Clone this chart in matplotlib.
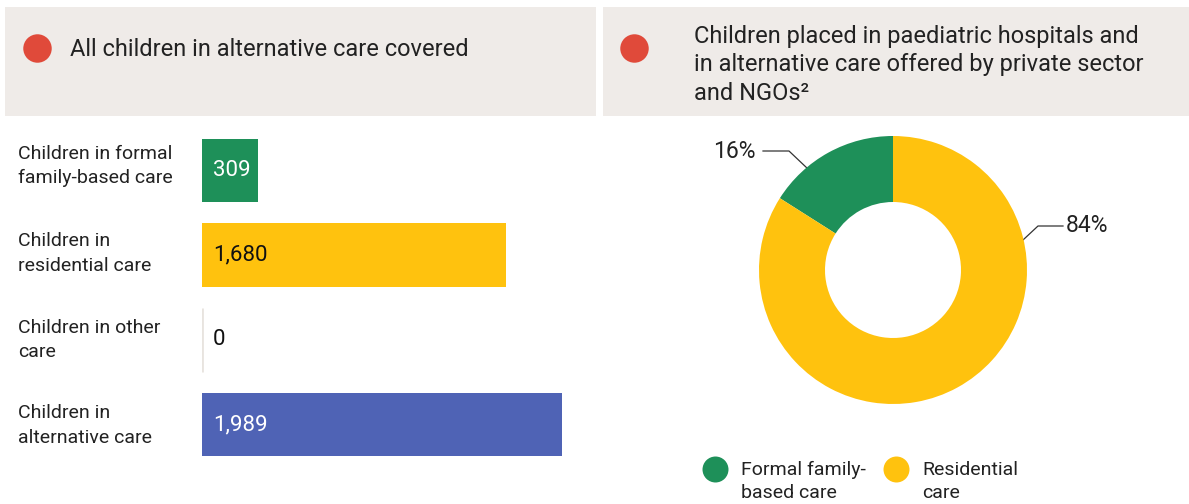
import matplotlib
matplotlib.use("Agg")
import matplotlib.pyplot as plt
from matplotlib.patches import Rectangle
from matplotlib.transforms import blended_transform_factory

plt.rcParams['font.family'] = ['Roboto', 'DejaVu Sans']

# data
bar_labels = ["Children in formal\nfamily-based care", "Children in\nresidential care",
              "Children in other\ncare", "Children in\nalternative care"]
bar_values = [309, 1680, 0, 1989]
bar_colors = ["#1e9059", "#ffc20e", "#e8e4df", "#4f63b5"]
value_text_colors = ["white", "#111111", "#111111", "white"]

pie_labels = ["Formal family-\nbased care", "Residential\ncare"]
pie_shares = [16, 84]
pie_colors = ["#1e9059", "#ffc20e"]

W, H = 1189, 504
fig = plt.figure(figsize=(W / 100, H / 100), dpi=100)

# background layer in pixel coordinates
bg = fig.add_axes([0, 0, 1, 1])
bg.set_xlim(0, W)
bg.set_ylim(H, 0)
bg.axis('off')
bg.add_patch(Rectangle((5, 7), 591, 109, color="#efebe8", lw=0))
bg.add_patch(Rectangle((603, 7), 586, 109, color="#efebe8", lw=0))
bg.scatter([37, 634], [48, 48], s=420, color="#e04a3a", lw=0)
bg.text(70, 49, "All children in alternative care covered", fontsize=17,
        va='center', ha='left', color="#222222")
bg.text(694, 65, "Children placed in paediatric hospitals and\n"
        "in alternative care offered by private sector\nand NGOs²",
        fontsize=17, va='center', ha='left', color="#222222", linespacing=1.3)

# bar chart
def fx(px):
    return px / W

def fy(py):
    return 1 - py / H

scale = 0.181  # px per child
ax = fig.add_axes([fx(202), fy(467), fx(2000 * scale), (467 - 128) / H])
ys = range(len(bar_values))
ax.barh(ys, bar_values, height=0.75, color=bar_colors, lw=0)
for y, v, c in zip(ys, bar_values, bar_colors):
    if v == 0:
        ax.vlines(0, y - 0.375, y + 0.375, color=c, lw=2)
ax.set_xlim(0, 2000)
ax.set_ylim(3.5, -0.5)
ax.axis('off')
tr = blended_transform_factory(fig.transFigure, ax.transData)
label_shift = [-0.05, -0.02, 0, 0.01]
for y, lab, v, tc, dy in zip(ys, bar_labels, bar_values, value_text_colors, label_shift):
    ax.text(fx(18), y + dy, lab, transform=tr, fontsize=14, va='center', ha='left',
            color="#222222", linespacing=1.45)
    ax.text(60, y, f"{v:,}", fontsize=16, va='center', ha='left', color=tc)

# donut
R = 134
ax2 = fig.add_axes([fx(893 - 150), fy(270 + 150), 300 / W, 300 / H])
ax2.pie(pie_shares, colors=pie_colors, startangle=90, counterclock=True,
        radius=R, wedgeprops=dict(width=R - 68, lw=0))
ax2.set_xlim(-150, 150)
ax2.set_ylim(-150, 150)
ax2.set_aspect('equal')
ax2.axis('off')

# leader lines and percentage labels (pixel layer)
bg.plot([763, 789, 808], [151, 151, 169], color="#333333", lw=0.9)
bg.text(756, 152, f"{pie_shares[0]}%", fontsize=16.5, ha='right', va='center', color="#222222")
bg.plot([1023, 1038, 1063], [240, 226, 226], color="#333333", lw=0.9)
bg.text(1066, 226, f"{pie_shares[1]}%", fontsize=16.5, ha='left', va='center', color="#222222")

# legend
for cx, lab, col in zip([715, 896], pie_labels, pie_colors):
    bg.scatter([cx], [469], s=350, color=col, lw=0)
    bg.text(cx + 26, 461, lab, fontsize=14, ha='left', va='top', color="#222222",
            linespacing=1.35)

fig.savefig("out.png", dpi=100)
